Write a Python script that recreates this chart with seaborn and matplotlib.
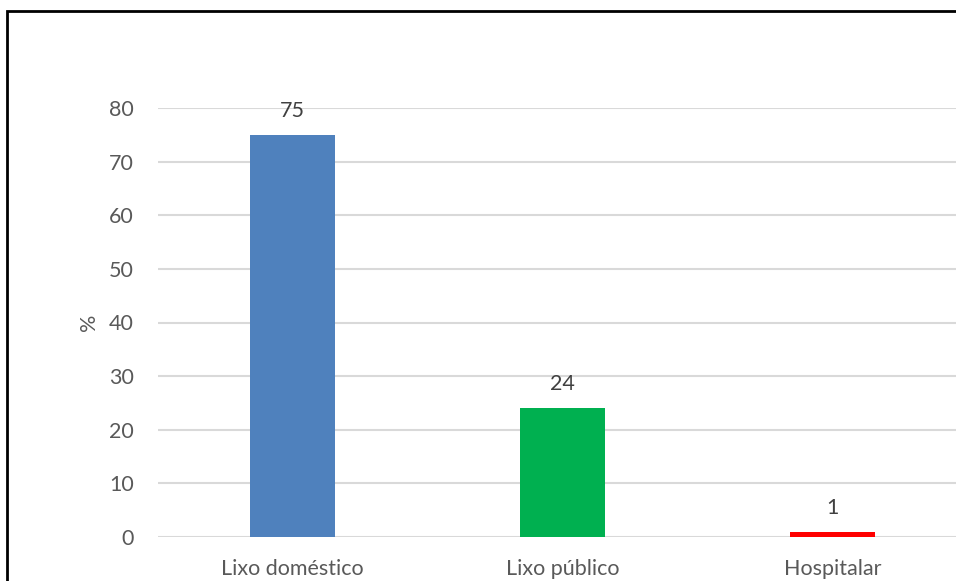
import matplotlib
matplotlib.use("Agg")
import matplotlib.pyplot as plt
import seaborn as sns
import pandas as pd
from matplotlib.patches import Rectangle

categories = ["Lixo doméstico", "Lixo público", "Hospitalar"]
values = [75, 24, 1]
colors = ["#4F81BD", "#00B050", "#FF0000"]
yticks = [0, 10, 20, 30, 40, 50, 60, 70, 80]

sns.set_theme(style="white")
plt.rcParams['font.family'] = ['Lato', 'DejaVu Sans']

df = pd.DataFrame({"cat": categories, "val": values})

W, H = 956, 581
fig = plt.figure(figsize=(W / 100, H / 100), dpi=100)
ax = fig.add_axes([157.5 / W, 44 / H, 810 / W, (537 - 108) / H])

sns.barplot(data=df, x="cat", y="val", hue="cat", palette=colors,
            width=0.315, legend=False, ax=ax, saturation=1, zorder=3,
            linewidth=0)

ax.set_ylim(0, 80)
ax.set_xlim(-0.5, 2.5)
ax.set_yticks(yticks)
ax.set_yticklabels([str(t) for t in yticks])
ax.yaxis.grid(True, color="#D9D9D9", linewidth=1.5, zorder=0)
ax.set_axisbelow(True)
for s in ax.spines.values():
    s.set_visible(False)
ax.tick_params(axis="y", length=0, pad=17, labelsize=15.5, labelcolor="#595959")
ax.tick_params(axis="x", length=0, pad=16, labelsize=15.5, labelcolor="#595959")
ax.set_xlabel("")
ax.set_ylabel("%", fontsize=15.5, color="#595959", labelpad=7)

for c in ax.containers:
    ax.bar_label(c, labels=[str(int(v)) for v in c.datavalues], padding=10,
                 fontsize=15.5, color="#404040")

# outer frame (cropped on right and bottom)
fig.patches.append(Rectangle((7 / W, -0.2), 1.2, 1.2 - 11 / H,
                             transform=fig.transFigure, fill=False,
                             edgecolor="black", linewidth=2, zorder=10))

fig.savefig("out.png", dpi=100)
